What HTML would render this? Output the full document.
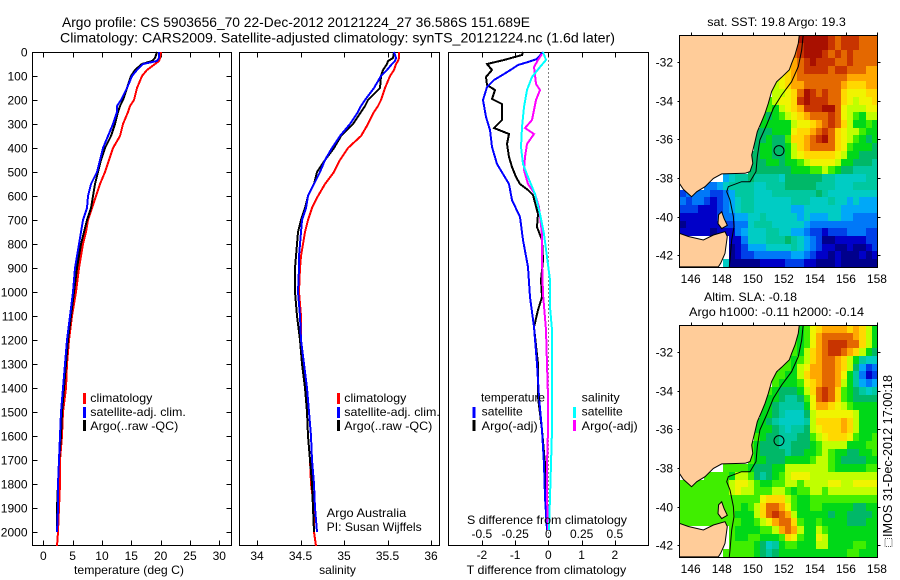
<!DOCTYPE html>
<html lang="en">
<head>
<meta charset="utf-8">
<title>Argo profile</title>
<style>
html,body{margin:0;padding:0;background:#fff;}
svg{display:block;font-family:"Liberation Sans",sans-serif;font-size:12px;fill:#000;}
text{fill:#000;}
</style>
</head>
<body>
<svg id="chart" width="900" height="580" viewBox="0 0 900 580" xmlns="http://www.w3.org/2000/svg">
  <text x="62" y="27" font-size="14" textLength="468" lengthAdjust="spacingAndGlyphs">Argo profile: CS 5903656_70 22-Dec-2012 20121224_27 36.586S 151.689E</text>
  <text x="60" y="42.5" font-size="14" textLength="555" lengthAdjust="spacingAndGlyphs">Climatology: CARS2009. Satellite-adjusted climatology: synTS_20121224.nc (1.6d later)</text>

  <g id="maps"></g>
  <g id="plots"></g>

  <text x="74" y="574" textLength="110" lengthAdjust="spacingAndGlyphs">temperature (deg C)</text>
  <text x="337.5" y="574" text-anchor="middle">salinity</text>
  <text x="466.7" y="574" textLength="159.5" lengthAdjust="spacingAndGlyphs">T difference from climatology</text>
  <text x="467" y="524" textLength="160" lengthAdjust="spacingAndGlyphs">S difference from climatology</text>

  <g>
    <rect x="83" y="393" width="3" height="11" fill="#f00"/>
    <rect x="83" y="407" width="3" height="11" fill="#00f"/>
    <rect x="83" y="420" width="3" height="11" fill="#000"/>
    <text x="90.3" y="402" textLength="62" lengthAdjust="spacingAndGlyphs">climatology</text>
    <text x="90.3" y="416" textLength="95.5" lengthAdjust="spacingAndGlyphs">satellite-adj. clim.</text>
    <text x="90.3" y="430" textLength="88" lengthAdjust="spacingAndGlyphs">Argo(..raw -QC)</text>
  </g>
  <g>
    <rect x="337" y="393" width="3" height="11" fill="#f00"/>
    <rect x="337" y="407" width="3" height="11" fill="#00f"/>
    <rect x="337" y="420" width="3" height="11" fill="#000"/>
    <text x="344.3" y="402" textLength="62" lengthAdjust="spacingAndGlyphs">climatology</text>
    <text x="344.3" y="416" textLength="95.5" lengthAdjust="spacingAndGlyphs">satellite-adj. clim.</text>
    <text x="344.3" y="430" textLength="88" lengthAdjust="spacingAndGlyphs">Argo(..raw -QC)</text>
  </g>
  <text x="326.7" y="517" textLength="79.5" lengthAdjust="spacingAndGlyphs">Argo Australia</text>
  <text x="326.7" y="531" textLength="95" lengthAdjust="spacingAndGlyphs">PI: Susan Wijffels</text>

  <g id="diff-legend">
    <rect x="472.5" y="407" width="3" height="11" fill="#00f"/>
    <rect x="472.5" y="420" width="3" height="11" fill="#000"/>
    <rect x="573" y="407" width="3" height="11" fill="#0ff"/>
    <rect x="573" y="420" width="3" height="11" fill="#f0f"/>
    <text x="481" y="401.7" textLength="64" lengthAdjust="spacingAndGlyphs">temperature</text>
    <text x="481.7" y="415.7" textLength="41" lengthAdjust="spacingAndGlyphs">satellite</text>
    <text x="481.7" y="430" textLength="56" lengthAdjust="spacingAndGlyphs">Argo(-adj)</text>
    <text x="581.7" y="401.7" textLength="38" lengthAdjust="spacingAndGlyphs">salinity</text>
    <text x="581.7" y="415.7" textLength="41" lengthAdjust="spacingAndGlyphs">satellite</text>
    <text x="581.7" y="430" textLength="56" lengthAdjust="spacingAndGlyphs">Argo(-adj)</text>
  </g>

  <text x="707.3" y="26" textLength="138.5" lengthAdjust="spacingAndGlyphs">sat. SST: 19.8 Argo: 19.3</text>
  <text x="704" y="301" textLength="93" lengthAdjust="spacingAndGlyphs">Altim. SLA: -0.18</text>
  <text x="689" y="316" textLength="175" lengthAdjust="spacingAndGlyphs">Argo h1000: -0.11 h2000: -0.14</text>

  <text transform="translate(892,537) rotate(-90)" textLength="162" lengthAdjust="spacingAndGlyphs" x="0" y="0" font-size="13">IMOS 31-Dec-2012 17:00:18</text>
  <rect x="885" y="538.5" width="7" height="8" fill="#fff" stroke="#555" stroke-width="1" stroke-dasharray="1 1"/>
</svg>

<script>
// ---------- profile data ----------
const depthLevels = [0,25,35,50,75,100,150,200,225,250,300,350,400,450,500,550,600,650,700,750,800,850,900,1000,1100,1200,1300,1400,1500,1600,1700,1800,1900,2000,2055];
const climTemp = [20.06,19.9,19.8,19.0,17.6,16.76,15.9,15.5,14.8,14.5,13.6,13.0,11.8,11.25,10.6,9.66,8.9,8.3,7.7,7.2,6.8,6.5,6.1,5.6,4.9,4.4,4.1,3.8,3.4,3.2,2.9,2.8,2.67,2.55,2.3];
const satTemp = [19.8,19.8,19.3,17.0,15.9,15.05,14.2,13.2,12.6,12.5,11.9,11.1,10.1,9.66,9.1,8.2,7.7,7.4,6.8,6.4,6,5.7,5.45,5.0,4.5,4.1,3.7,3.3,3.07,2.85,2.67,2.56,2.44,2.33];
const argoTemp = [19.3,19.0,18.5,16.8,15.6,14.9,14.2,13.5,13.1,12.8,12.2,11.6,10.5,9.9,9.4,8.8,8.5,8.1,7.5,6.9,6.5,6.1,5.8,5.2,4.7,4.2,3.8,3.5,3.2,2.95,2.75,2.55,2.3,2.25];
const climSal = [35.63,35.63,35.62,35.6,35.57,35.53,35.47,35.43,35.39,35.34,35.28,35.2,35.05,34.95,34.88,34.78,34.7,34.63,34.59,34.55,34.53,34.51,34.49,34.48,34.5,34.51,34.53,34.55,34.57,34.59,34.61,34.62,34.65,34.66,34.675];
const satSal = [35.58,35.6,35.59,35.55,35.49,35.43,35.34,35.24,35.2,35.16,35.07,34.95,34.86,34.78,34.72,34.65,34.59,34.56,34.52,34.5,34.49,34.485,34.48,34.475,34.49,34.51,34.54,34.575,34.6,34.62,34.63,34.65,34.67,34.69];
const argoSal = [35.57,35.56,35.51,35.49,35.45,35.43,35.41,35.28,35.24,35.2,35.1,34.97,34.88,34.78,34.69,34.65,34.59,34.55,34.51,34.475,34.455,34.45,34.44,34.44,34.46,34.49,34.52,34.55,34.57,34.59,34.61,34.63,34.645,34.66];

const diffArgoTDepth = [0,12,33,47,75,103,137,158,193,214,283,314,339,380,436,478,519,547,575,596,672,728,783,867,950,1019,1075,1144,1297,1436,1575,1714,1853,1992];
const diffArgoT = [-0.75,-0.8,-1.35,-1.85,-1.7,-1.87,-1.85,-1.6,-1.7,-1.4,-1.4,-1.63,-1.2,-1.25,-1.2,-1.1,-0.97,-0.85,-0.6,-0.45,-0.3,-0.35,-0.2,-0.15,-0.23,-0.2,-0.3,-0.42,-0.32,-0.3,-0.2,-0.1,-0.07,-0.05];
const diffSatTDepth = [0,26,40,54,68,89,117,144,200,269,325,394,464,506,547,617,686,783,894,1019,1144,1297,1436,1575,1714,1853,1992];
const diffSatT = [-0.15,-0.35,-0.6,-0.9,-1.1,-1.35,-1.65,-1.85,-1.97,-1.87,-1.75,-1.7,-1.55,-1.38,-1.18,-1.1,-0.85,-0.75,-0.6,-0.55,-0.43,-0.35,-0.28,-0.2,-0.13,-0.09,-0.05];
const diffSatSDepth = [0,33,61,103,158,228,311,394,464,519,589,672,756,853,950,1061,1158,1297,1436,1575,1714,1853,1992];
const diffSatS = [-0.04,-0.02,-0.06,-0.125,-0.16,-0.18,-0.2,-0.205,-0.19,-0.15,-0.1,-0.06,-0.03,-0.01,0.012,0.012,0.025,0.025,0.025,0.025,0.02,0.012,0.005];
const diffArgoSDepth = [6,33,61,96,131,158,200,242,283,314,339,380,436,492,547,589,644,756,867,1006,1158,1297,1436,1575,1714,1853,1992];
const diffArgoS = [-0.05,-0.075,-0.11,-0.1,-0.09,-0.06,-0.09,-0.11,-0.125,-0.175,-0.11,-0.16,-0.175,-0.18,-0.15,-0.1,-0.07,-0.05,-0.05,-0.04,-0.02,-0.01,-0.005,0,-0.008,-0.008,0];

// ---------- tick labels ----------
const depthTicks = [0,100,200,300,400,500,600,700,800,900,1000,1100,1200,1300,1400,1500,1600,1700,1800,1900,2000];
const tempTicks = [0,5,10,15,20,25,30];
const salTicks = [34,34.5,35,35.5,36];
const diffTTicks = [-2,-1,0,1,2];
const diffSTicks = [-0.5,-0.25,0,0.25,0.5];
const lonTicks = [146,148,150,152,154,156,158];
const latTicks = [-32,-34,-36,-38,-40,-42];

// ---------- map data ----------
const argoLon = 151.689;
const argoLat = -36.586;
const gridLon0 = 145.27;
const gridLat0 = -30.6;
const gridStep = 0.4;
const levelColors = {'0':'#00008c','1':'#0000c8','2':'#0040e8','3':'#0078f8','4':'#00a8f8','5':'#00ccc4','6':'#00c8a0','7':'#00b868','8':'#00d818','9':'#40ee00','a':'#c0ff00','b':'#f0f400','c':'#ffd800','d':'#ffa800','e':'#e46800','f':'#c83400','g':'#a81000'};
const sstRows = [
"...................gggggfefffeee",
"...................fggggfefffeee",
"..................efgggfefefeeee",
"..................defgfffeefeeee",
".................cdeffffeffeeedd",
"................bcdeeeeeeeeddddd",
"...............abcddeeeeeedcccdd",
"...............aabcegfefeecbbbcc",
"..............9abbcfgfffeecbabbc",
"..............98abcdfffggebaaabb",
".............8789abcdeeefeba98aa",
".............88888abbcdefeca8898",
"............777888bccdefecbaa988",
"............778779ccdefgecba9878",
"............788778acdeeeecb98887",
"...........7788778abcccccba88777",
"...........777887889abbbba887776",
"...........777777788899a98776666",
".......4566766665777777665555566",
"....3345666655666777776665556666",
"23333223466655566666667655555555",
"32332123456655555566655565545444",
"22211123456655555544555555444444",
"11111123344556555554544455443333",
"01111112233566655555433333333333",
"11111011134555665544322122233322",
"........113555666765432001111122",
"........012444555565432110010012",
"........012233333344321101000101",
".......5000001111222110001000000"
];
const slaRows = [
"...................89bcddddcdca8",
"...................89bdeeeeedca8",
"..................989bdefffeeca8",
"..................98acdeffedca87",
".................989acdeedca8655",
"................998abddeedca7423",
"...............9988acddeedb86312",
"...............98889bcdeeda86434",
"..............987778acefec987656",
"..............8876679befec987777",
".............88766668bddcba98888",
".............88765557abbbbbba888",
"............887655556accccdca888",
"............888765667abcccdca888",
"............9877666779abcccb9889",
"...........987776677789aaaa88899",
"...........987777677889a98877889",
"...........98877788889aa98777788",
".......9999877788aaaaaaa98888899",
"....99998aa976789abbbaaaaaaaaaaa",
"99999999abba98899aa9aaaabbaabbbb",
"99999999abaa999aa9899aa9aaaaaaaa",
"9999999999999bccca98899999999999",
"999999999989aceedb98899888887788",
"999999999888acefeda8888878877778",
"9999999999889abdeec9889888877788",
"........9888899adeda88a988888888",
"........988998889cb988ba88888888",
"........99998756899888aa88889988",
".......9999987678888888888899888"
];
const coastMain = [[153.0,-30.6],[152.93,-31.03],[152.72,-31.64],[152.5,-32.07],[152.35,-32.41],[151.86,-32.79],[151.54,-33.02],[151.21,-33.53],[151.0,-34.14],[150.79,-34.66],[150.57,-35.09],[150.29,-35.6],[150.14,-36.12],[149.93,-36.81],[150.0,-37.24],[149.82,-37.67],[149.5,-37.76],[148.0,-37.79],[147.46,-38.02],[146.92,-38.45],[146.39,-38.71],[146.06,-38.97],[145.53,-38.59],[145.27,-38.28],[145.27,-30.6]];
const coastTasmania = [[145.27,-40.86],[145.85,-41.03],[146.82,-41.21],[147.46,-40.95],[148.21,-40.78],[148.36,-41.03],[148.21,-41.9],[147.93,-42.41],[147.78,-42.6],[145.27,-42.6]];
const coastFlinders = [[147.8,-39.9],[148.0,-39.75],[148.15,-40.1],[148.36,-40.45],[148.0,-40.62],[147.76,-40.36]];
const isobath = [[153.25,-30.6],[153.15,-31.38],[152.93,-32.24],[152.5,-33.02],[151.86,-33.71],[151.32,-34.4],[150.89,-35.26],[150.46,-36.03],[150.29,-36.9],[150.21,-37.67],[149.82,-38.19],[149.28,-38.19],[148.42,-38.45],[148.32,-38.71],[148.53,-39.14],[148.75,-40.0],[148.79,-40.52],[148.64,-41.21],[148.53,-42.24],[148.49,-42.6]];

// ---------- axis functions ----------
const NS = 'http://www.w3.org/2000/svg';
const plots = document.getElementById('plots');
const maps = document.getElementById('maps');
const yDepth = d => 52.3 + 0.24 * d;
const xTemp = t => 43.3 + 5.867 * t;
const xSal = s => 257 + 87 * (s - 34);
const xDiffT = v => 548.4 + 33.25 * v;
const xDiffS = v => 548.4 + 133 * v;
const xLon = lon => 690.7 + 15.52 * (lon - 146);
const latScale = lat => -19.33 * (lat + 32);
const snap = v => Math.round(v) + 0.5;

function make(tag, parent) {
  const e = document.createElementNS(NS, tag);
  parent.appendChild(e);
  return e;
}
function line(parent, x1, y1, x2, y2) {
  const l = make('line', parent);
  l.setAttribute('x1', x1); l.setAttribute('y1', y1);
  l.setAttribute('x2', x2); l.setAttribute('y2', y2);
  l.setAttribute('stroke', '#000');
  l.setAttribute('stroke-width', 1);
  l.setAttribute('shape-rendering', 'crispEdges');
  return l;
}
function label(parent, x, y, str, anchor) {
  const t = make('text', parent);
  t.setAttribute('x', x); t.setAttribute('y', y);
  t.setAttribute('text-anchor', anchor);
  t.textContent = str;
  return t;
}
function frame(parent, x1, y1, x2, y2) {
  const r = make('rect', parent);
  r.setAttribute('x', x1); r.setAttribute('y', y1);
  r.setAttribute('width', x2 - x1); r.setAttribute('height', y2 - y1);
  r.setAttribute('fill', 'none');
  r.setAttribute('stroke', '#000');
  r.setAttribute('stroke-width', 1);
  r.setAttribute('shape-rendering', 'crispEdges');
  return r;
}
function series(parent, xf, depths, values, color, width) {
  const p = make('polyline', parent);
  const pts = [];
  for (let i = 0; i < values.length; i++) {
    pts.push(Math.round(xf(values[i])) + ',' + Math.round(yDepth(depths[i])));
  }
  p.setAttribute('points', pts.join(' '));
  p.setAttribute('fill', 'none');
  p.setAttribute('stroke', color);
  p.setAttribute('stroke-width', width);
  p.setAttribute('shape-rendering', 'crispEdges');
  p.setAttribute('stroke-linejoin', 'miter');
  return p;
}
function panel(name, x1, x2, xTicks, xf, showDepth) {
  const g = make('g', plots);
  
  
  const top = 52.5, bottom = 545.5;
  for (const v of xTicks) {
    const px = snap(xf(v));
    const a = line(g, px, top, px, top + 5);
    
    
    const b = line(g, px, bottom - 5, px, bottom);
    
    
  }
  if (showDepth) {
    for (const d of depthTicks) {
      const py = snap(yDepth(d));
      const a = line(g, x1, py, x1 + 5, py);
      
      
      const b = line(g, x2 - 5, py, x2, py);
      
      
      const t = label(g, 27.5, py + 4, String(d), 'end');
      
      
    }
  }
  const f = frame(g, x1, top, x2, bottom);
  
  
  return g;
}

// ---------- temperature ----------
const gT = panel('temperature', 32.5, 231.5, tempTicks, xTemp, true);
for (const v of tempTicks) {
  const t = label(gT, xTemp(v), 560, String(v), 'middle');
  
  
}
const tClim = series(gT, xTemp, depthLevels, climTemp, '#f00', 2);


const tArgo = series(gT, xTemp, depthLevels, argoTemp, '#000', 2);


const tSat = series(gT, xTemp, depthLevels, satTemp, '#00f', 2);



// ---------- salinity ----------
const gS = panel('salinity', 239.5, 439.5, salTicks, xSal, false);
for (const v of salTicks) {
  const t = label(gS, xSal(v), 560, String(v), 'middle');
  
  
}
const sClim = series(gS, xSal, depthLevels, climSal, '#f00', 2);


const sArgo = series(gS, xSal, depthLevels, argoSal, '#000', 2);


const sSat = series(gS, xSal, depthLevels, satSal, '#00f', 2);



// ---------- differences ----------
const gD = panel('difference', 448.5, 648.5, diffTTicks, xDiffT, false);
for (const v of diffTTicks) {
  const t = label(gD, xDiffT(v), 559, String(v), 'middle');
  
  
}
for (const v of diffSTicks) {
  const t = label(gD, xDiffS(v), 538, String(v), 'middle');
  
  
}
const zeroLine = line(gD, snap(xDiffT(0)), 52.5, snap(xDiffT(0)), 545.5);
zeroLine.setAttribute('stroke-dasharray', '1 3');


const dArgoT = series(gD, xDiffT, diffArgoTDepth, diffArgoT, '#000', 2);


const dSatT = series(gD, xDiffT, diffSatTDepth, diffSatT, '#00f', 2);


const dArgoS = series(gD, xDiffS, diffArgoSDepth, diffArgoS, '#f0f', 2);


const dSatS = series(gD, xDiffS, diffSatSDepth, diffSatS, '#0ff', 2);



// ---------- maps ----------
function poly(parent, pts, yTop) {
  return pts.map(p => xLon(p[0]).toFixed(1) + ',' + (yTop + 27 + latScale(p[1])).toFixed(1)).join(' ');
}
function drawMap(name, yTop, rows) {
  const g = make('g', maps);
  
  
  const x1 = 679.5, x2 = 877.5, y1 = yTop + 0.5, y2 = yTop + 232.5;
  const clip = make('clipPath', g);
  clip.setAttribute('id', name + '-clip');
  const cr = make('rect', clip);
  cr.setAttribute('x', x1); cr.setAttribute('y', y1);
  cr.setAttribute('width', x2 - x1); cr.setAttribute('height', y2 - y1);
  const body = make('g', g);
  body.setAttribute('clip-path', 'url(#' + name + '-clip)');
  for (let r = 0; r < rows.length; r++) {
    for (let c = 0; c < rows[r].length; c++) {
      const ch = rows[r][c];
      if (ch === '.') continue;
      const lon = gridLon0 + c * gridStep;
      const lat = gridLat0 - r * gridStep;
      const px = Math.round(xLon(lon));
      const py = Math.round(yTop + 27 + latScale(lat));
      const cell = make('rect', body);
      cell.setAttribute('x', px);
      cell.setAttribute('y', py);
      cell.setAttribute('width', Math.round(xLon(lon + gridStep)) - px);
      cell.setAttribute('height', Math.round(yTop + 27 + latScale(lat - gridStep)) - py);
      cell.setAttribute('fill', levelColors[ch]);
      cell.setAttribute('shape-rendering', 'crispEdges');
      
      
    }
  }
  for (const shape of [coastMain, coastTasmania, coastFlinders]) {
    const land = make('polygon', body);
    land.setAttribute('points', poly(body, shape, yTop));
    land.setAttribute('fill', '#ffcc99');
    land.setAttribute('stroke', '#000');
    land.setAttribute('stroke-width', 1);
    
    
  }
  const iso = make('polyline', body);
  iso.setAttribute('points', poly(body, isobath, yTop));
  iso.setAttribute('fill', 'none');
  iso.setAttribute('stroke', '#000');
  iso.setAttribute('stroke-width', 1);
  
  
  const mark = make('circle', body);
  mark.setAttribute('cx', xLon(argoLon));
  mark.setAttribute('cy', yTop + 27 + latScale(argoLat));
  mark.setAttribute('r', 5);
  mark.setAttribute('fill', 'none');
  mark.setAttribute('stroke', '#000');
  mark.setAttribute('stroke-width', 1);
  
  
  const f = frame(g, x1, y1, x2, y2);
  
  
  for (const lon of lonTicks) {
    const px = snap(xLon(lon));
    const tk = line(g, px, y1 - 3, px, y1);
    
    
    const t = label(g, xLon(lon), yTop + 248, String(lon), 'middle');
    
    
  }
  for (const lat of latTicks) {
    const py = snap(yTop + 27 + latScale(lat));
    const tl = line(g, x1 - 2, py, x1, py);
    
    
    const tr = line(g, x2, py, x2 + 3, py);
    
    
    const t = label(g, 673, py + 4, String(lat), 'end');
    
    
  }
}
drawMap('sst', 35, sstRows);
drawMap('sla', 325, slaRows);
</script>
</body>
</html>
